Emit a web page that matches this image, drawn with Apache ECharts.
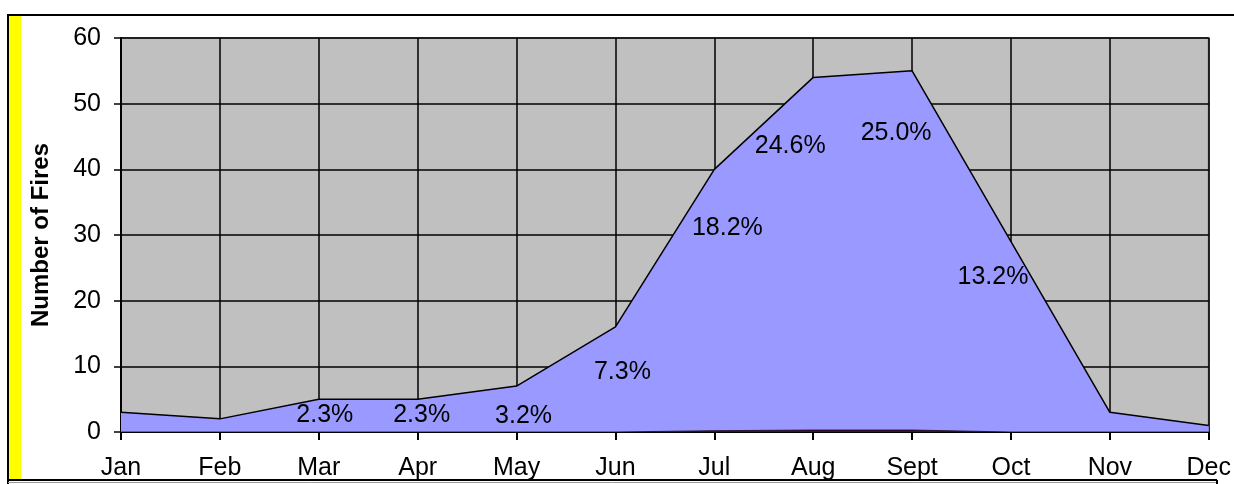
<!DOCTYPE html>
<html>
<head>
<meta charset="utf-8">
<script src="https://cdn.jsdelivr.net/npm/echarts@6/dist/echarts.min.js"></script>
<style>
  html, body { margin: 0; padding: 0; background: #ffffff; }
  #chart { width: 1234px; height: 484px; }
</style>
</head>
<body>
<div id="chart"></div>
<script>
// Monthly fire counts
const months = ['Jan', 'Feb', 'Mar', 'Apr', 'May', 'Jun', 'Jul', 'Aug', 'Sept', 'Oct', 'Nov', 'Dec'];
const fires = [3, 2, 5, 5, 7, 16, 40, 54, 55, 29, 3, 1];
// Small second series lying along the baseline
const secondSeries = [0, 0, 0, 0, 0, 0, 0.2, 0.3, 0.3, 0, 0, 0];
// Share of the yearly total, shown for the busier months
const shareLabels = [null, null, '2.3%', '2.3%', '3.2%', '7.3%', '18.2%', '24.6%', '25.0%', '13.2%', null, null];
const yTicks = { min: 0, max: 60, interval: 10 };

// Pixel nudges for each share label, relative to its month's point
const labelNudge = [
  [0, 0], [0, 0], [6, 16], [4, 16], [7, 30], [7, 45],
  [13, 59], [-23, 69], [-16, 62], [-18, 36], [0, 0], [0, 0]
];

const FONT = '"Liberation Sans", Arial, sans-serif';

const labelData = [];
shareLabels.forEach((txt, i) => {
  if (txt) labelData.push([i, fires[i], txt]);
});

const chart = echarts.init(document.getElementById('chart'), null, { renderer: 'canvas' });

chart.setOption({
  animation: false,
  backgroundColor: '#ffffff',
  grid: {
    left: 121, right: 21, top: 38, bottom: 52,
    show: true,
    backgroundColor: '#C0C0C0',
    borderColor: '#808080',
    borderWidth: 2
  },
  xAxis: {
    type: 'category',
    data: months,
    boundaryGap: false,
    axisLine: { show: true, lineStyle: { color: '#000', width: 2 } },
    axisTick: { show: true, length: 8, lineStyle: { color: '#000', width: 2 } },
    axisLabel: { color: '#000', fontFamily: FONT, fontSize: 25, margin: 24, interval: 0 },
    splitLine: { show: true, lineStyle: { color: '#000', width: 1.5 } }
  },
  yAxis: {
    type: 'value',
    min: yTicks.min, max: yTicks.max, interval: yTicks.interval,
    name: 'Number of Fires',
    nameLocation: 'middle',
    nameGap: 68,
    nameRotate: 90,
    nameTextStyle: { color: '#000', fontFamily: FONT, fontSize: 24, fontWeight: 'bold' },
    axisLine: { show: true, lineStyle: { color: '#000', width: 2 } },
    axisTick: { show: true, length: 7, lineStyle: { color: '#000', width: 1.5 } },
    axisLabel: { color: '#000', fontFamily: FONT, fontSize: 25, margin: 20 },
    splitLine: { show: true, lineStyle: { color: '#000', width: 1.5 } }
  },
  series: [
    {
      name: 'Fires',
      type: 'line',
      data: fires,
      symbol: 'none',
      lineStyle: { color: '#000', width: 1.5 },
      areaStyle: { color: '#9999FF', opacity: 1 },
      z: 2
    },
    {
      name: 'Second',
      type: 'line',
      data: secondSeries,
      symbol: 'none',
      lineStyle: { color: '#1a0818', width: 0.8 },
      areaStyle: { color: '#3d1034', opacity: 1 },
      z: 3
    },
    {
      name: 'Share',
      type: 'custom',
      data: labelData,
      z: 5,
      renderItem: function (params, api) {
        const idx = api.value(0);
        const p = api.coord([idx, api.value(1)]);
        const nudge = labelNudge[idx];
        return {
          type: 'text',
          x: p[0] + nudge[0],
          y: p[1] + nudge[1],
          style: {
            text: labelData[params.dataIndex][2],
            font: '25px ' + FONT,
            fill: '#000',
            align: 'center',
            verticalAlign: 'middle'
          }
        };
      }
    }
  ],
  graphic: [
    // frame: left and top borders with the yellow strip
    { type: 'rect', shape: { x: 9, y: 16, width: 12, height: 464 }, style: { fill: '#FFFF00' }, silent: true },
    { type: 'line', shape: { x1: 8, y1: 15, x2: 1234, y2: 15 }, style: { stroke: '#000', lineWidth: 2 }, silent: true },
    { type: 'line', shape: { x1: 8, y1: 14, x2: 8, y2: 484 }, style: { stroke: '#000', lineWidth: 2 }, silent: true },
    // bottom rule and the edge of the box below
    { type: 'line', shape: { x1: 8, y1: 480, x2: 1217, y2: 480 }, style: { stroke: '#000', lineWidth: 2 }, silent: true },
    { type: 'line', shape: { x1: 8, y1: 482.5, x2: 1217, y2: 482.5 }, style: { stroke: '#9a9a9a', lineWidth: 1 }, silent: true },
    { type: 'line', shape: { x1: 1217, y1: 480, x2: 1217, y2: 484 }, style: { stroke: '#000', lineWidth: 2 }, silent: true }
  ]
});
</script>
</body>
</html>
